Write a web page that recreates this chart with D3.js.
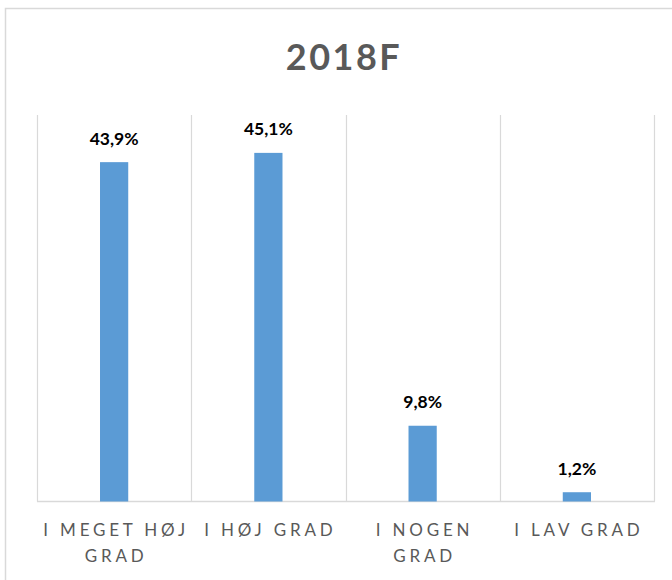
<!DOCTYPE html>
<html>
<head>
<meta charset="utf-8">
<script src="https://cdn.jsdelivr.net/npm/d3@7"></script>
<style>
  body { margin: 0; background: #fff; }
  svg { display: block; }
</style>
</head>
<body>
<div id="chart"></div>
<script>
// data
var categories = ["I MEGET HØJ GRAD", "I HØJ GRAD", "I NOGEN GRAD", "I LAV GRAD"];
var tickLines = [["I MEGET HØJ", "GRAD"], ["I HØJ GRAD"], ["I NOGEN", "GRAD"], ["I LAV GRAD"]];
var values = [43.9, 45.1, 9.8, 1.2];
var valueLabels = ["43,9%", "45,1%", "9,8%", "1,2%"];
var title = "2018F";

var W = 672, H = 580;
var margin = {top: 115, right: 18, bottom: 78.5, left: 37};

var svg = d3.select("#chart")
  .append("svg")
    .attr("width", W)
    .attr("height", H);

// outer chart border
svg.append("rect")
  .attr("x", 5.5)
  .attr("y", 8.5)
  .attr("width", W)
  .attr("height", H)
  .attr("fill", "#fff")
  .attr("stroke", "#d9d9d9")
  .attr("stroke-width", 1.5);

svg.append("text")
  .attr("x", 344)
  .attr("y", 70)
  .attr("text-anchor", "middle")
  .style("font-family", "Lato, 'Open Sans', sans-serif")
  .style("font-weight", "bold")
  .style("font-size", "36px")
  .style("letter-spacing", "2.5px")
  .style("fill", "#595959")
  .text(title);

var x = d3.scaleBand()
  .domain(categories)
  .range([margin.left, W - margin.right])
  .paddingInner(0)
  .paddingOuter(0);

var y = d3.scaleLinear()
  .domain([0, 50])
  .range([H - margin.bottom, margin.top]);

// vertical gridlines at category boundaries
var bounds = categories.map(function(c) { return x(c); }).concat([x.range()[1]]);
svg.append("g")
  .selectAll("line")
  .data(bounds)
  .join("line")
    .attr("x1", function(d) { return Math.round(d) + 0.5; })
    .attr("x2", function(d) { return Math.round(d) + 0.5; })
    .attr("y1", y(50))
    .attr("y2", y(0))
    .attr("stroke", "#d9d9d9")
    .attr("stroke-width", 1.2);

// baseline
svg.append("line")
  .attr("x1", x.range()[0])
  .attr("x2", x.range()[1] + 1)
  .attr("y1", y(0))
  .attr("y2", y(0))
  .attr("stroke", "#d9d9d9")
  .attr("stroke-width", 1.5);

var barW = x.bandwidth() * 0.183;

svg.append("g")
  .selectAll("rect")
  .data(values)
  .join("rect")
    .attr("x", function(d, i) { return x(categories[i]) + x.bandwidth() / 2 - barW / 2; })
    .attr("y", function(d) { return y(d); })
    .attr("width", barW)
    .attr("height", function(d) { return y(0) - y(d); })
    .attr("fill", "#5b9bd5");

// value labels
svg.append("g")
  .selectAll("text")
  .data(values)
  .join("text")
    .attr("x", function(d, i) { return x(categories[i]) + x.bandwidth() / 2; })
    .attr("y", function(d) { return y(d) - 17.5; })
    .attr("text-anchor", "middle")
    .style("font-family", "Lato, 'Open Sans', sans-serif")
    .style("font-weight", "bold")
    .style("font-size", "17.5px")
    .style("fill", "#000")
    .text(function(d, i) { return valueLabels[i]; });

// category labels
var ticks = svg.append("g")
  .selectAll("text")
  .data(categories)
  .join("text")
    .attr("x", function(d) { return x(d) + x.bandwidth() / 2 + 2; })
    .attr("y", 536)
    .attr("text-anchor", "middle")
    .style("font-family", "Lato, 'Open Sans', sans-serif")
    .style("font-size", "17px")
    .style("letter-spacing", "3.8px")
    .style("fill", "#595959");

ticks.selectAll("tspan")
  .data(function(d, i) { return tickLines[i]; })
  .join("tspan")
    .attr("x", function() { return d3.select(this.parentNode).attr("x"); })
    .attr("dy", function(d, j) { return j === 0 ? 0 : 26; })
    .text(function(d) { return d; });
</script>
</body>
</html>
